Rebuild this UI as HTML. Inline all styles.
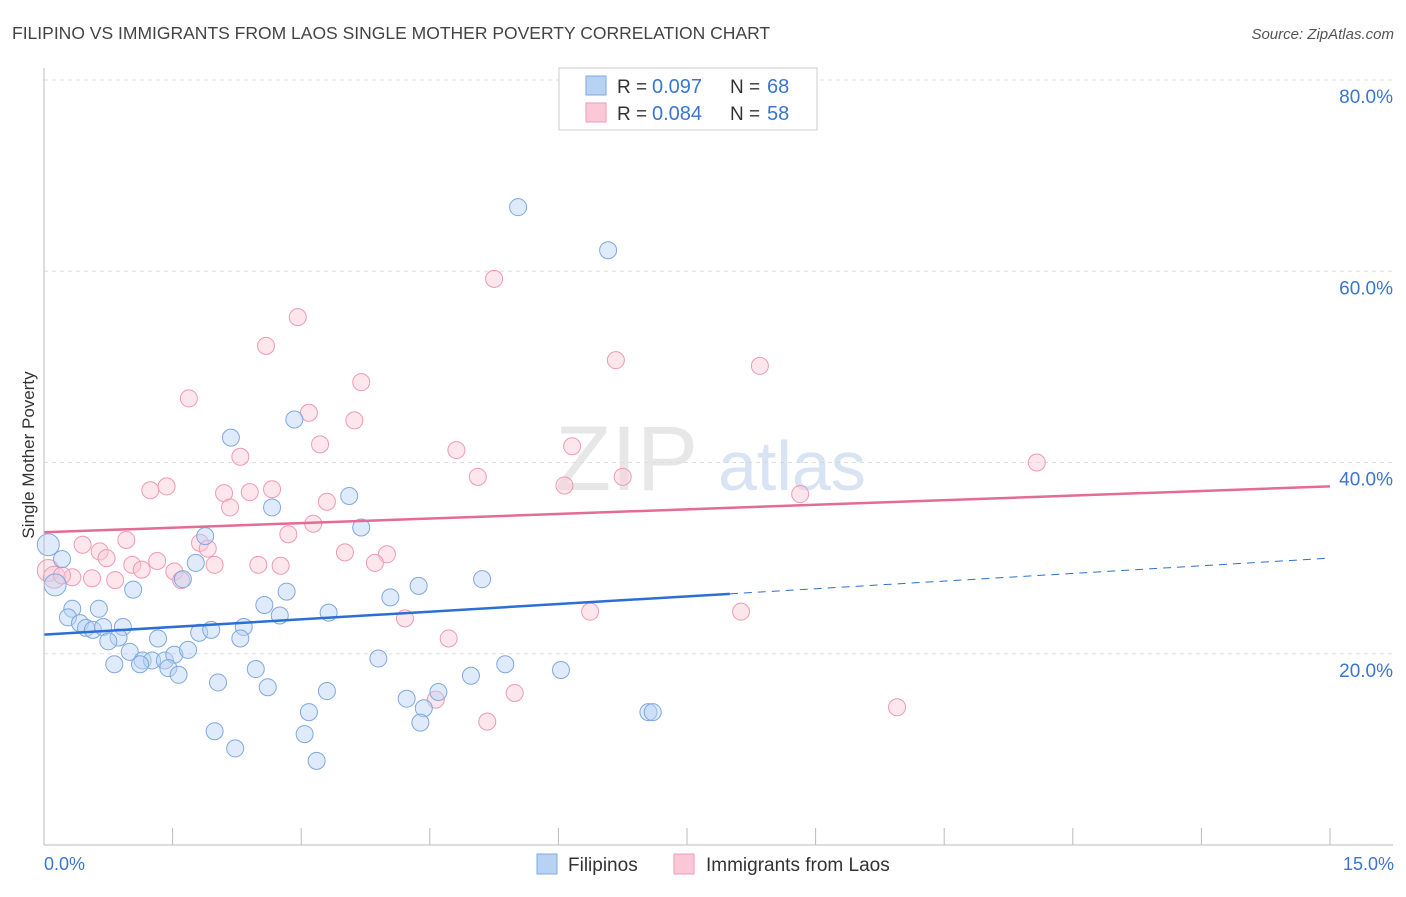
<!DOCTYPE html>
<html><head><meta charset="utf-8"><style>
body{margin:0;background:#fff;font-family:"Liberation Sans",sans-serif}
svg text{font-family:"Liberation Sans",sans-serif}
</style></head><body>
<svg id="chart" width="1406" height="892" xmlns="http://www.w3.org/2000/svg">
<text x="12" y="39" font-size="17.5" fill="#444">FILIPINO VS IMMIGRANTS FROM LAOS SINGLE MOTHER POVERTY CORRELATION CHART</text>
<text x="1394" y="39" font-size="15" fill="#555" text-anchor="end" font-style="italic">Source: ZipAtlas.com</text>
<g id="grid"></g>
<g><text x="555" y="490" font-size="92" fill="#ddd" font-family="Liberation Serif" opacity="0.7">ZIP</text><text x="718" y="490" font-size="70" fill="#c8d8ee" opacity="0.7">atlas</text></g>
<g id="pts"></g>
<g id="lines"></g>
<line x1="44" y1="68" x2="44" y2="845" stroke="#bbb"/>
<line x1="44" y1="845" x2="1393" y2="845" stroke="#bbb"/>
<text transform="translate(34,455) rotate(-90)" font-size="17" fill="#333" text-anchor="middle">Single Mother Poverty</text>
<text x="44" y="870" font-size="18" fill="#3a76d0">0.0%</text>
<text x="1394" y="870" font-size="18" fill="#3a76d0" text-anchor="end">15.0%</text>
<g>
<rect x="559" y="68" width="258" height="62" fill="#fff" stroke="#ccc"/>
<rect x="586" y="76" width="20" height="19" fill="#b8d2f4" stroke="#7fa8e0"/>
<rect x="586" y="103" width="20" height="19" fill="#fcc8d8" stroke="#ee9ab4"/>
<text x="617" y="93" font-size="19" fill="#333">R =</text>
<text x="652" y="93" font-size="20" fill="#3a76d0">0.097</text>
<text x="730" y="93" font-size="19" fill="#333">N =</text>
<text x="767" y="93" font-size="20" fill="#3a76d0">68</text>
<text x="617" y="120" font-size="19" fill="#333">R =</text>
<text x="652" y="120" font-size="20" fill="#3a76d0">0.084</text>
<text x="730" y="120" font-size="19" fill="#333">N =</text>
<text x="767" y="120" font-size="20" fill="#3a76d0">58</text>
</g>
<g>
<rect x="537" y="854" width="20" height="20" fill="#b8d2f4" stroke="#7fa8e0"/>
<text x="568" y="871" font-size="19" fill="#333">Filipinos</text>
<rect x="674" y="854" width="20" height="20" fill="#fcc8d8" stroke="#ee9ab4"/>
<text x="706" y="871" font-size="19" fill="#333">Immigrants from Laos</text>
</g>
</svg>
<script>
const yTicks=[20,40,60,80];
const yTickLabels=["20.0%","40.0%","60.0%","80.0%"];
const blueX=[5.53,6.58,2.92,2.18,3.56,2.66,3.70,1.88,0.21,0.05,0.13,1.77,1.62,1.04,2.83,4.37,5.11,4.04,2.57,2.75,3.32,0.33,0.64,0.28,0.42,0.49,0.57,0.69,0.92,0.87,0.75,1.33,1.81,1.95,2.33,2.29,1.00,1.15,1.26,1.41,1.52,1.68,0.82,1.12,1.45,1.57,2.47,3.90,5.38,6.03,2.03,2.61,3.30,4.23,4.60,4.98,4.43,3.09,7.05,7.10,1.99,3.04,4.39,2.23,3.18];
const blueY=[66.7,62.2,44.5,42.6,36.5,35.3,33.2,32.3,29.9,31.4,27.2,29.5,27.8,26.7,26.5,27.1,27.8,25.9,25.1,24.0,24.3,24.7,24.7,23.8,23.2,22.7,22.5,22.8,22.8,21.7,21.3,21.6,22.2,22.5,22.8,21.6,20.2,19.3,19.3,19.3,19.9,20.4,18.9,18.9,18.5,17.8,18.4,19.5,18.9,18.3,17.0,16.5,16.1,15.3,16.0,17.7,14.3,13.9,13.9,13.9,11.9,11.6,12.8,10.1,8.8];
const pinkX=[5.25,2.96,2.59,6.67,8.35,3.70,1.69,3.09,3.62,3.22,4.81,2.29,11.58,5.06,6.16,6.75,6.07,1.43,1.24,2.10,2.40,2.66,2.17,3.30,8.82,3.14,2.85,0.96,0.45,1.82,1.91,0.65,0.73,1.32,3.51,4.00,3.86,1.03,1.14,1.99,2.50,2.76,1.52,1.60,0.05,0.12,0.33,0.56,0.83,0.21,4.21,6.37,8.13,4.72,5.49,5.17,4.57,9.95];
const pinkY=[59.2,55.2,52.2,50.7,50.1,48.4,46.7,45.2,44.4,41.9,41.3,40.6,40.0,38.5,41.7,38.5,37.6,37.5,37.1,36.8,36.9,37.2,35.3,35.9,36.7,33.6,32.5,31.9,31.4,31.6,31.0,30.7,30.0,29.7,30.6,30.4,29.5,29.3,28.8,29.3,29.3,29.2,28.6,27.7,28.7,28.0,28.0,27.9,27.7,28.2,23.7,24.4,24.4,21.6,15.9,12.9,15.2,14.4];
const blueTrend=[22.0,30.0];
const pinkTrend=[32.7,37.5];
const NS="http://www.w3.org/2000/svg";
const xs=v=>44+v*(1286/15);
const ys=v=>845-v*(765/80);
function mk(t,a,p){const e=document.createElementNS(NS,t);for(const k in a)e.setAttribute(k,a[k]);p.appendChild(e);return e;}
const grid=document.getElementById('grid');
yTicks.forEach((t,i)=>{
 const l=mk('line',{x1:44,x2:1393,y1:ys(t),y2:ys(t),stroke:'#ddd','stroke-dasharray':'4,4'},grid);
 
 
 const tx=mk('text',{x:1393,y:ys(t)+23,'font-size':19,fill:'#3a76d0','text-anchor':'end'},grid);
 tx.textContent=yTickLabels[i];
 
 
});
for(let i=0;i<=10;i++){
 const l=mk('line',{x1:xs(i*1.5),x2:xs(i*1.5),y1:828,y2:845,stroke:'#bbb'},grid);
 
 
}
const pts=document.getElementById('pts');
function draw(X,Y,fill,stroke,name){X.forEach((x,i)=>{
 const c=mk('circle',{cx:xs(x),cy:ys(Y[i]),r:x<0.2?11:8.5,fill:fill,'fill-opacity':0.45,stroke:stroke,'stroke-width':1},pts);
 
 
});}
draw(pinkX,pinkY,'#fcc8d8','#ee9ab4','point-laos');
draw(blueX,blueY,'#b8d2f4','#7fa8e0','point-filipinos');
const lines=document.getElementById('lines');
const bAt=v=>blueTrend[0]+(blueTrend[1]-blueTrend[0])*v/15;
let l1=mk('line',{x1:xs(0),y1:ys(bAt(0)),x2:xs(8),y2:ys(bAt(8)),stroke:'#2c6fd4','stroke-width':2.5},lines);


let l2=mk('line',{x1:xs(8),y1:ys(bAt(8)),x2:xs(15),y2:ys(bAt(15)),stroke:'#2c6fd4','stroke-width':1,'stroke-dasharray':'8,6'},lines);


let l3=mk('line',{x1:xs(0),y1:ys(pinkTrend[0]),x2:xs(15),y2:ys(pinkTrend[1]),stroke:'#e36b95','stroke-width':2.5},lines);


</script>
</body></html>
